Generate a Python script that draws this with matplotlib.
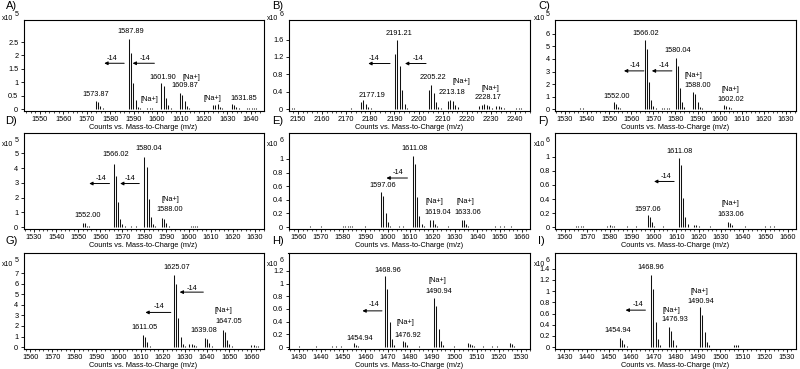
import numpy as np
import matplotlib.pyplot as plt
from matplotlib.ticker import MultipleLocator

plt.rcParams['font.family'] = ['Liberation Sans', 'DejaVu Sans']
plt.rcParams['font.size'] = 5.3

# ---- A) counts x10^5
a_mz = [1556.0, 1563.0, 1573.87, 1574.87, 1575.87, 1576.87, 1580.9, 1582.9,
        1587.89, 1588.89, 1589.89, 1590.89, 1591.89, 1592.89, 1595.9, 1596.9, 1597.9,
        1601.90, 1602.90, 1603.90, 1604.90, 1605.90, 1609.87, 1610.87, 1611.87, 1612.87, 1613.87,
        1617.9, 1623.88, 1624.88, 1625.88, 1626.88, 1627.88, 1631.85, 1632.85, 1633.85, 1634.85,
        1638.5, 1639.5, 1640.5, 1641.5, 1642.5]
a_int = [0.02, 0.02, 0.30, 0.25, 0.13, 0.05, 0.02, 0.02,
         2.60, 2.10, 0.98, 0.35, 0.10, 0.03, 0.05, 0.06, 0.04,
         0.98, 0.85, 0.40, 0.15, 0.05, 0.62, 0.52, 0.30, 0.13, 0.04,
         0.02, 0.15, 0.17, 0.18, 0.08, 0.03, 0.20, 0.17, 0.10, 0.04,
         0.04, 0.05, 0.05, 0.04, 0.03]
a_lab = ['1573.87', '1587.89', '1601.90', '[Na+]', '1609.87', '[Na+]', '[Na+]', '1631.85']
a_lab_x = [1573.9, 1588.9, 1602.5, 1614.9, 1611.7, 1596.7, 1623.6, 1637.0]
a_lab_y = [0.56, 2.88, 1.19, 1.19, 0.87, 0.37, 0.40, 0.40]
a_arr_from = [1586.0, 1598.9]
a_arr_to = [1577.5, 1589.6]
a_arr_y = [1.71, 1.71]
a_arr_tx = [1581.0, 1595.0]
a_arr_ty = [1.87, 1.87]

# ---- B) counts x10^6
b_mz = [2146.5, 2147.5, 2148.5, 2170.2, 2172.2, 2176.2, 2177.19, 2178.2, 2179.2, 2180.2, 2184.2,
        2190.2, 2191.21, 2192.2, 2193.2, 2194.2, 2195.2, 2198.2,
        2204.2, 2205.22, 2206.2, 2207.2, 2208.2, 2209.2, 2212.2, 2213.18, 2214.2, 2215.2, 2216.2,
        2220.2, 2225.2, 2226.2, 2227.2, 2228.17, 2229.2, 2230.2, 2232.2, 2233.2, 2234.2, 2235.2,
        2240.5, 2241.5, 2242.5]
b_int = [0.03, 0.03, 0.02, 0.015, 0.02, 0.17, 0.21, 0.11, 0.06, 0.02, 0.015,
         1.28, 1.58, 1.00, 0.45, 0.12, 0.03, 0.015,
         0.45, 0.55, 0.37, 0.17, 0.06, 0.02, 0.18, 0.22, 0.18, 0.10, 0.04,
         0.015, 0.07, 0.10, 0.12, 0.10, 0.07, 0.03, 0.08, 0.07, 0.04, 0.02,
         0.03, 0.03, 0.02]
b_lab = ['2177.19', '2191.21', '2205.22', '[Na+]', '2213.18', '[Na+]', '2228.17']
b_lab_x = [2180.6, 2192.0, 2206.1, 2217.9, 2213.8, 2229.9, 2228.9]
b_lab_y = [0.31, 1.74, 0.73, 0.63, 0.39, 0.48, 0.27]
b_arr_from = [2188.2, 2203.1]
b_arr_to = [2179.2, 2194.4]
b_arr_y = [1.05, 1.05]
b_arr_tx = [2181.5, 2199.6]
b_arr_ty = [1.17, 1.17]

# ---- C) counts x10^5
c_mz = [1537.0, 1538.0, 1539.0, 1545.0, 1552.0, 1553.0, 1554.0, 1555.0, 1560.0,
        1566.02, 1567.02, 1568.02, 1569.02, 1570.02, 1571.0, 1574.0, 1575.0, 1576.0, 1577.0,
        1580.04, 1581.04, 1582.04, 1583.04, 1584.04, 1585.0, 1588.0, 1589.0, 1590.0, 1591.0, 1592.0,
        1596.0, 1597.0, 1598.0, 1602.02, 1603.02, 1604.02, 1605.02, 1606.0, 1612.0,
        1622.0, 1623.0, 1624.0, 1625.0]
c_int = [0.12, 0.10, 0.05, 0.03, 0.55, 0.45, 0.20, 0.07, 0.04,
         5.50, 4.80, 2.15, 0.75, 0.25, 0.06, 0.10, 0.08, 0.10, 0.06,
         4.10, 3.40, 1.70, 0.60, 0.20, 0.05, 1.40, 1.20, 0.55, 0.20, 0.06,
         0.05, 0.04, 0.04, 0.30, 0.28, 0.20, 0.10, 0.04, 0.03,
         0.05, 0.04, 0.04, 0.03]
c_lab = ['1552.00', '1566.02', '1580.04', '[Na+]', '1588.00', '[Na+]', '1602.02']
c_lab_x = [1553.6, 1566.5, 1581.1, 1588.0, 1590.2, 1605.0, 1605.0]
c_lab_y = [1.0, 6.05, 4.7, 2.7, 1.9, 1.58, 0.8]
c_arr_from = [1565.7, 1578.4]
c_arr_to = [1556.7, 1569.3]
c_arr_y = [3.05, 3.05]
c_arr_tx = [1561.5, 1574.8]
c_arr_ty = [3.47, 3.47]

# ---- D) counts x10^5
d_mz = [1537.0, 1538.0, 1552.0, 1553.0, 1554.0, 1555.0,
        1566.02, 1567.02, 1568.02, 1569.02, 1570.02, 1571.0, 1574.0, 1575.0, 1576.0,
        1580.04, 1581.04, 1582.04, 1583.04, 1584.04, 1585.0, 1588.0, 1589.0, 1590.0, 1591.0, 1592.0,
        1596.0, 1601.0, 1602.0, 1603.0, 1604.0, 1605.0, 1618.0, 1622.0, 1623.0, 1624.0]
d_int = [0.04, 0.04, 0.30, 0.25, 0.10, 0.05,
         4.25, 3.45, 1.70, 0.55, 0.20, 0.05, 0.05, 0.04, 0.05,
         4.75, 4.10, 1.90, 0.70, 0.20, 0.06, 0.60, 0.55, 0.30, 0.10, 0.04,
         0.03, 0.10, 0.10, 0.08, 0.06, 0.03, 0.03, 0.03, 0.03, 0.03]
d_lab = ['1552.00', '1566.02', '1580.04', '[Na+]', '1588.00']
d_lab_x = [1554.3, 1566.8, 1581.8, 1591.6, 1591.6]
d_lab_y = [0.79, 4.91, 5.32, 1.87, 1.19]
d_arr_from = [1564.2, 1577.7]
d_arr_to = [1555.0, 1569.0]
d_arr_y = [2.95, 2.95]
d_arr_tx = [1560.3, 1573.5]
d_arr_ty = [3.29, 3.29]

# ---- E) counts x10^6
e_mz = [1565.0, 1570.0, 1580.0, 1581.0, 1582.0, 1583.0, 1584.0, 1590.0,
        1597.06, 1598.06, 1599.06, 1600.06, 1601.06, 1605.0, 1607.0,
        1611.08, 1612.08, 1613.08, 1614.08, 1615.08, 1616.08,
        1619.04, 1620.04, 1621.04, 1622.04, 1627.0, 1633.06, 1634.06, 1635.06, 1636.06,
        1648.0, 1650.0, 1652.0, 1655.0]
e_int = [0.01, 0.01, 0.015, 0.02, 0.02, 0.02, 0.015, 0.01,
         0.52, 0.46, 0.21, 0.08, 0.02, 0.015, 0.015,
         1.04, 0.93, 0.44, 0.16, 0.05, 0.02,
         0.11, 0.10, 0.05, 0.02, 0.01, 0.10, 0.10, 0.05, 0.02,
         0.01, 0.01, 0.01, 0.01]
e_lab = ['1597.06', '1611.08', '[Na+]', '1619.04', '[Na+]', '1633.06']
e_lab_x = [1597.6, 1612.1, 1620.8, 1622.3, 1634.7, 1635.7]
e_lab_y = [0.61, 1.16, 0.38, 0.21, 0.38, 0.21]
e_arr_from = [1608.8]
e_arr_to = [1599.4]
e_arr_y = [0.72]
e_arr_tx = [1604.4]
e_arr_ty = [0.80]

# ---- F) counts x10^6
f_mz = [1565.0, 1566.0, 1567.0, 1568.0, 1579.0, 1580.0, 1581.0, 1582.0, 1588.0, 1592.0,
        1597.06, 1598.06, 1599.06, 1600.06, 1604.0,
        1611.08, 1612.08, 1613.08, 1614.08, 1615.08, 1618.0, 1619.0, 1620.0, 1625.0,
        1633.06, 1634.06, 1635.06, 1641.0, 1650.0, 1652.0, 1654.0]
f_int = [0.015, 0.02, 0.015, 0.01, 0.02, 0.025, 0.02, 0.015, 0.01, 0.01,
         0.17, 0.15, 0.07, 0.02, 0.01,
         0.99, 0.88, 0.41, 0.15, 0.04, 0.03, 0.03, 0.02, 0.01,
         0.07, 0.06, 0.03, 0.01, 0.01, 0.01, 0.01]
f_lab = ['1597.06', '1611.08', '[Na+]', '1633.06']
f_lab_x = [1597.3, 1611.5, 1634.4, 1634.4]
f_lab_y = [0.25, 1.08, 0.34, 0.18]
f_arr_from = [1609.0]
f_arr_to = [1600.0]
f_arr_y = [0.65]
f_arr_tx = [1605.5]
f_arr_ty = [0.72]

# ---- G) counts x10^5
g_mz = [1557.0, 1559.0, 1566.0, 1570.0, 1578.0, 1585.0, 1592.0, 1600.0,
        1611.05, 1612.05, 1613.05, 1614.05,
        1625.07, 1626.07, 1627.07, 1628.07, 1629.07, 1630.07, 1632.0, 1633.0, 1634.0, 1635.0,
        1639.08, 1640.08, 1641.08, 1642.08, 1647.05, 1648.05, 1649.05, 1650.05, 1651.05,
        1660.0, 1661.0, 1662.0, 1663.0]
g_int = [0.05, 0.04, 0.03, 0.04, 0.03, 0.03, 0.03, 0.03,
         1.10, 1.00, 0.45, 0.15,
         6.80, 6.00, 2.80, 1.00, 0.30, 0.10, 0.25, 0.30, 0.20, 0.10,
         0.85, 0.75, 0.40, 0.15, 1.60, 1.45, 0.70, 0.25, 0.08,
         0.20, 0.20, 0.15, 0.10]
g_lab = ['1611.05', '1625.07', '1639.08', '[Na+]', '1647.05']
g_lab_x = [1611.7, 1626.4, 1638.3, 1647.3, 1649.6]
g_lab_y = [1.9, 7.57, 1.58, 3.5, 2.4]
g_arr_from = [1638.3, 1623.6]
g_arr_to = [1627.6, 1612.1]
g_arr_y = [5.2, 3.28]
g_arr_tx = [1633.3, 1618.3]
g_arr_ty = [5.58, 3.85]

# ---- H) counts x10^6
h_mz = [1430.0, 1438.0, 1445.0, 1447.0, 1449.0, 1454.94, 1455.94, 1456.94,
        1468.96, 1469.96, 1470.96, 1471.96, 1472.96, 1476.92, 1477.92, 1478.92, 1484.0,
        1490.94, 1491.94, 1492.94, 1493.94, 1494.94, 1500.0, 1506.0, 1507.0, 1508.0, 1509.0,
        1513.0, 1517.0, 1519.0, 1525.0, 1526.0, 1527.0]
h_int = [0.01, 0.01, 0.02, 0.02, 0.02, 0.06, 0.04, 0.02,
         1.12, 0.92, 0.39, 0.13, 0.04, 0.10, 0.08, 0.03, 0.01,
         0.78, 0.65, 0.28, 0.10, 0.03, 0.01, 0.06, 0.05, 0.03, 0.02,
         0.01, 0.02, 0.02, 0.06, 0.05, 0.02]
h_lab = ['1454.94', '1468.96', '[Na+]', '1476.92', '[Na+]', '1490.94']
h_lab_x = [1457.5, 1470.0, 1478.1, 1479.3, 1492.5, 1493.2]
h_lab_y = [0.13, 1.2, 0.38, 0.18, 1.04, 0.87]
h_arr_from = [1467.5]
h_arr_to = [1458.7]
h_arr_y = [0.57]
h_arr_tx = [1463.8]
h_arr_ty = [0.67]

# ---- I) counts x10^6
i_mz = [1440.0, 1447.0, 1449.0, 1454.94, 1455.94, 1456.94, 1457.94,
        1468.96, 1469.96, 1470.96, 1471.96, 1472.96, 1476.93, 1477.93, 1478.93, 1479.93, 1484.0,
        1490.94, 1491.94, 1492.94, 1493.94, 1494.94, 1500.0, 1506.0, 1507.0, 1508.0,
        1515.0, 1520.0, 1523.0, 1526.0]
i_int = [0.01, 0.01, 0.01, 0.16, 0.13, 0.05, 0.02,
         1.28, 1.03, 0.45, 0.15, 0.04, 0.36, 0.28, 0.12, 0.04, 0.01,
         0.72, 0.58, 0.27, 0.09, 0.03, 0.01, 0.04, 0.04, 0.03,
         0.01, 0.01, 0.01, 0.01]
i_lab = ['1454.94', '1468.96', '[Na+]', '1476.93', '[Na+]', '1490.94']
i_lab_x = [1454.0, 1469.0, 1477.9, 1479.4, 1490.6, 1491.4]
i_lab_y = [0.30, 1.43, 0.66, 0.49, 1.0, 0.82]
i_arr_from = [1466.4]
i_arr_to = [1457.5]
i_arr_y = [0.66]
i_arr_tx = [1463.0]
i_arr_ty = [0.76]

letters = ['A)', 'B)', 'C)', 'D)', 'E)', 'F)', 'G)', 'H)', 'I)']
exponents = [5, 6, 5, 5, 6, 6, 5, 6, 6]
y_max_tick = [2.5, 1.6, 6, 5, 1, 1, 7, 1.2, 1.4]
y_step = [0.5, 0.4, 1, 1, 0.2, 0.2, 1, 0.2, 0.2]
x_first_tick = [1550, 2150, 1530, 1530, 1560, 1560, 1560, 1430, 1430]

spectra = [
    (a_mz, a_int, a_lab, a_lab_x, a_lab_y, a_arr_from, a_arr_to, a_arr_y, a_arr_tx, a_arr_ty),
    (b_mz, b_int, b_lab, b_lab_x, b_lab_y, b_arr_from, b_arr_to, b_arr_y, b_arr_tx, b_arr_ty),
    (c_mz, c_int, c_lab, c_lab_x, c_lab_y, c_arr_from, c_arr_to, c_arr_y, c_arr_tx, c_arr_ty),
    (d_mz, d_int, d_lab, d_lab_x, d_lab_y, d_arr_from, d_arr_to, d_arr_y, d_arr_tx, d_arr_ty),
    (e_mz, e_int, e_lab, e_lab_x, e_lab_y, e_arr_from, e_arr_to, e_arr_y, e_arr_tx, e_arr_ty),
    (f_mz, f_int, f_lab, f_lab_x, f_lab_y, f_arr_from, f_arr_to, f_arr_y, f_arr_tx, f_arr_ty),
    (g_mz, g_int, g_lab, g_lab_x, g_lab_y, g_arr_from, g_arr_to, g_arr_y, g_arr_tx, g_arr_ty),
    (h_mz, h_int, h_lab, h_lab_x, h_lab_y, h_arr_from, h_arr_to, h_arr_y, h_arr_tx, h_arr_ty),
    (i_mz, i_int, i_lab, i_lab_x, i_lab_y, i_arr_from, i_arr_to, i_arr_y, i_arr_tx, i_arr_ty),
]

# layout, in pixels of the 800x369 picture
xlims = [(1543.0, 1645.5), (2146.2, 2246.1), (1525.5, 1634.3),
         (1525.2, 1634.0), (1555.6, 1663.6), (1555.5, 1663.5),
         (1557.0, 1665.5), (1425.5, 1534.0), (1425.8, 1533.8)]
ytops = [3.32, 2.05, 7.1, 6.37, 1.38, 1.34, 8.9, 1.48, 1.68]
col_l = [23.5, 288.5, 555.0]
col_r = [263.5, 530.0, 795.5]
row_t = [20, 133, 253]
row_b = [111, 229, 349]
letter_xy = [(6, 1), (272, 1), (538, 1), (5, 116), (272, 116), (538, 116),
             (5, 236), (272, 236), (538, 236)]

W, H = 800, 369
fig = plt.figure(figsize=(8, 3.69), dpi=100)

for k in range(9):
    r, c = divmod(k, 3)
    l, rr, t, b = col_l[c], col_r[c], row_t[r], row_b[r]
    ax = fig.add_axes([l / W, 1 - b / H, (rr - l) / W, (b - t) / H])
    mz, inten, lab, lx, ly, af, at, ay, atx, aty = spectra[k]

    ax.vlines(mz, 0, inten, color='#111111', lw=0.75)
    for s, x, y in zip(lab, lx, ly):
        ax.text(x, y, s, ha='center', va='center', fontsize=5.3)
    for x0, x1, y, tx, ty in zip(af, at, ay, atx, aty):
        ax.annotate('', xy=(x1, y), xytext=(x0, y),
                    arrowprops=dict(arrowstyle='-|>', color='black', lw=0.7,
                                    mutation_scale=5, shrinkA=0, shrinkB=0))
        ax.text(tx, ty, '-14', ha='center', va='center', fontsize=5.3)

    ax.set_xlim(*xlims[k])
    ax.set_ylim(-0.02 * ytops[k], ytops[k])
    ax.set_xticks(np.arange(x_first_tick[k], xlims[k][1], 10))
    ax.xaxis.set_minor_locator(MultipleLocator(2))
    yt = np.arange(0, y_max_tick[k] + 1e-6, y_step[k])
    ax.set_yticks(yt)
    ax.set_yticklabels(['%g' % round(v, 2) for v in yt])
    ax.tick_params(which='major', length=2.5, width=0.6, pad=1.2, labelsize=5.3)
    ax.tick_params(which='minor', length=1.3, width=0.5)
    for sp in ax.spines.values():
        sp.set_linewidth(0.8)
    ax.set_xlabel('Counts vs. Mass-to-Charge (m/z)', fontsize=5.3, labelpad=0.3)

    dy = 2 if r == 0 else -11
    ax.annotate('x10', xy=(0, 1), xycoords='axes fraction', xytext=(-10, dy),
                textcoords='offset pixels', ha='right', va='center', fontsize=5)
    ax.annotate(str(exponents[k]), xy=(0, 1), xycoords='axes fraction',
                xytext=(-9, dy + 4), textcoords='offset pixels',
                ha='left', va='center', fontsize=5)

    fx, fy = letter_xy[k]
    fig.text(fx / W, 1 - fy / H, letters[k], ha='left', va='top', fontsize=8)

fig.savefig('out.png', dpi=100)
